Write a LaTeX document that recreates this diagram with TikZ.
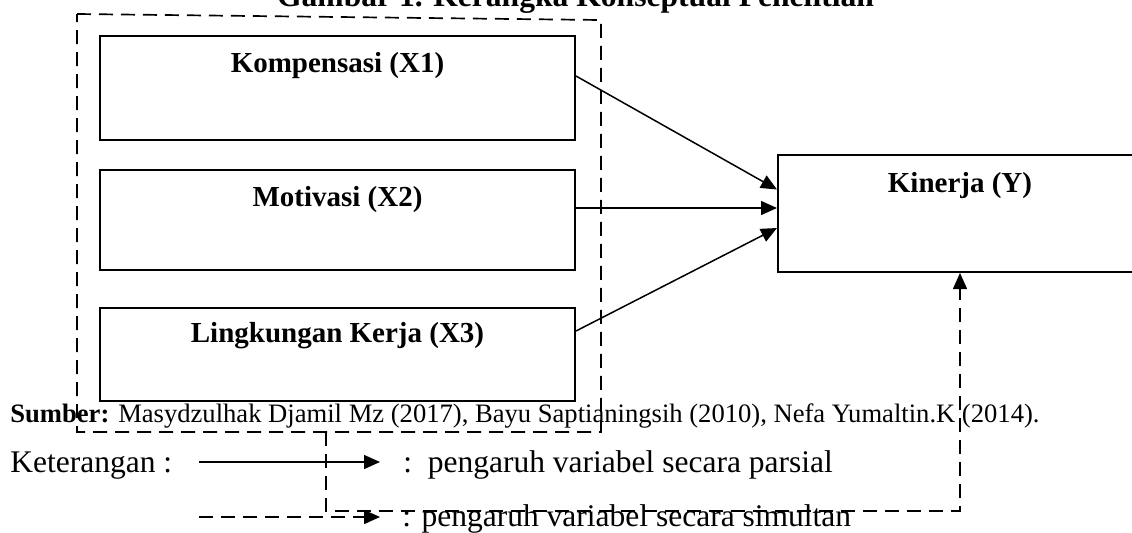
\documentclass[tikz,border=0pt]{standalone}
\usepackage{fontspec}
\setmainfont{Liberation Serif}
\usetikzlibrary{arrows.meta}
\begin{document}
\begin{tikzpicture}[x=0.5pt,y=-0.5pt]
\tikzstyle{every node}=[inner sep=0pt]
\tikzstyle{varbox}=[draw, line width=1pt, minimum width=237.5pt]
\tikzstyle{boxtext}=[font=\fontsize{14.5}{17}\selectfont\bfseries, anchor=base]
\tikzstyle{plain}=[font=\fontsize{15.75}{19}\selectfont, anchor=base west]
\tikzstyle{link}=[line width=0.75pt, -{Triangle[length=8pt,width=7pt]}]
\tikzstyle{grouped}=[line width=0.85pt, dash pattern=on 7pt off 4pt]

\useasboundingbox (0,0) rectangle (1132,532);

\node[font=\fontsize{15.8}{19}\selectfont\bfseries, anchor=base] (title) at (575.5,6) {Gambar 1. Kerangka Konseptual Penelitian};

\node[varbox, minimum height=52pt]   (x1)  at (337.5, 88)    {};
\node[varbox, minimum height=50pt]   (x2)  at (337.5, 220)   {};
\node[varbox, minimum height=46.5pt] (x3)  at (337.5, 354.5) {};
\node[varbox, minimum width=182pt, minimum height=58.5pt] (kin) at (960, 213.5) {};

\node[boxtext] (t1) at ([yshift=-18.5pt]x1.north)  {Kompensasi (X1)};
\node[boxtext] (t2) at ([yshift=-18.5pt]x2.north)  {Motivasi (X2)};
\node[boxtext] (t3) at ([yshift=-17.5pt]x3.north)  {Lingkungan Kerja (X3)};
\node[boxtext] (ty) at ([yshift=-19pt]kin.north)   {Kinerja (Y)};

\draw[link] ([yshift=6pt]x1.east)     -- ([yshift=12pt]kin.west);
\draw[link] ([yshift=6pt]x2.east)     -- ([yshift=2.75pt]kin.west);
\draw[link] ([yshift=11.75pt]x3.east) -- ([yshift=-7.25pt]kin.west);

\node[font=\fontsize{13.3}{16}\selectfont, anchor=base west] (src) at (10,422) {\textbf{Sumber:} Masydzulhak Djamil Mz (2017), Bayu Saptianingsih (2010), Nefa Yumaltin.K (2014).};

% kotak variabel bebas dan garis simultan
\draw[grouped] (77,14) -- (601,20) -- (601,432) -- (77,432) -- cycle;
\coordinate (gs) at (326,432);
\draw[grouped, link] (gs) -- ++(0,79) -| (kin.south);

% keterangan
\node[plain] (ket) at (10,472) {Keterangan :};
\coordinate (la) at (199,462);
\coordinate (lb) at (380,462);
\draw[link] (la) -- (lb);
\node[plain] (parsial) at (403,472) {:\ \ pengaruh variabel secara parsial};
\coordinate (lc) at (199,517);
\coordinate (ld) at (380,517);
\draw[link, grouped] (lc) -- (ld);
\node[plain] (simultan) at (402,526) {: pengaruh variabel secara simultan};
\end{tikzpicture}
\end{document}
